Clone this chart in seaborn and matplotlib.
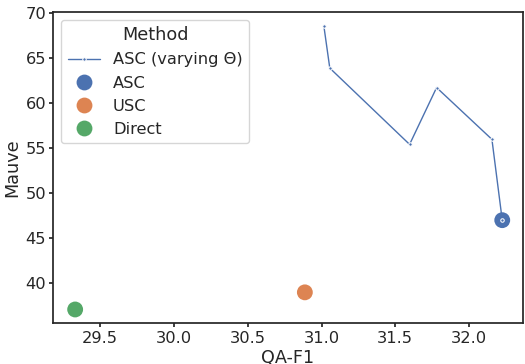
import matplotlib
matplotlib.use("Agg")
import matplotlib.pyplot as plt
import seaborn as sns
import pandas as pd

# ASC with varying threshold (line)
sweep_f1 = [31.016, 31.056, 31.597, 31.78, 32.155, 32.225]
sweep_mauve = [68.5, 63.86, 55.4, 61.7, 55.96, 47.0]

# single methods (points)
methods = ["ASC", "USC", "Direct"]
method_f1 = [32.225, 30.887, 29.33]
method_mauve = [47.0, 39.0, 37.1]

sns.set_theme(style="ticks", font_scale=1.06)
palette = sns.color_palette("deep")

sweep = pd.DataFrame({"QA-F1": sweep_f1, "Mauve": sweep_mauve})
points = pd.DataFrame({"QA-F1": method_f1, "Mauve": method_mauve, "Method": methods})

fig = plt.figure(figsize=(5.25, 3.64), dpi=100)
ax = fig.add_axes([0.101, 0.1126, 0.895, 0.855])

sns.lineplot(data=sweep, x="QA-F1", y="Mauve", sort=False, marker=".",
             markersize=5, linewidth=1, color=palette[0],
             label="ASC (varying \u0398)", ax=ax)
sns.scatterplot(data=points, x="QA-F1", y="Mauve", hue="Method",
                palette=palette[:3], s=130, linewidth=0, ax=ax)

ax.set_xlim(29.18, 32.365)
ax.set_ylim(35.6, 70.1)
ax.set_xticks([29.5, 30.0, 30.5, 31.0, 31.5, 32.0])
ax.set_yticks([40, 45, 50, 55, 60, 65, 70])
ax.tick_params(axis="x", length=3, pad=3)
ax.tick_params(axis="y", length=3, pad=2)
ax.xaxis.labelpad = 2
ax.yaxis.labelpad = 3

handles, labels = ax.get_legend_handles_labels()
ax.legend(handles, labels, title="Method", loc="upper left", markerscale=1.0)

fig.savefig("out.png", dpi=100)
